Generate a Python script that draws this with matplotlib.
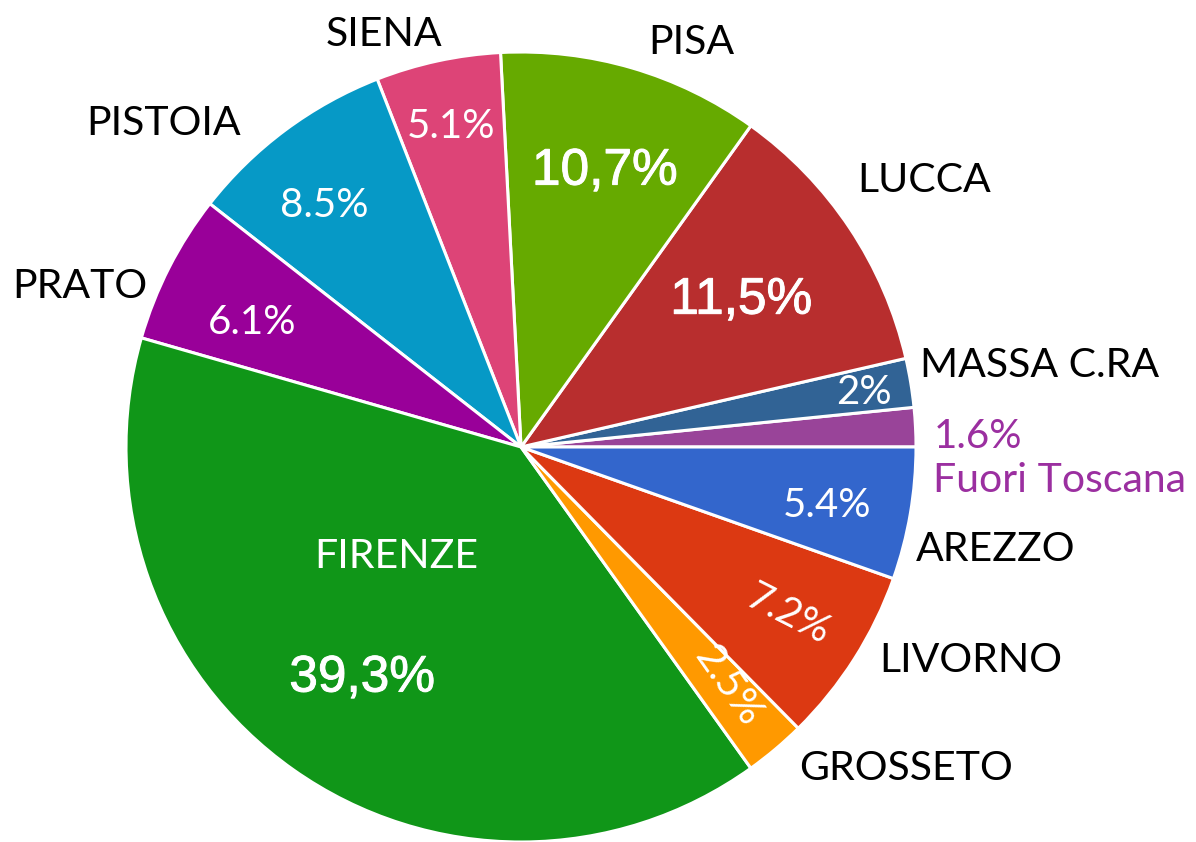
import numpy as np
import matplotlib.pyplot as plt
import matplotlib.patheffects as pe

# data, counterclockwise from 3 o'clock
names = ['Fuori Toscana', 'MASSA C.RA', 'LUCCA', 'PISA', 'SIENA', 'PISTOIA',
         'PRATO', 'FIRENZE', 'GROSSETO', 'LIVORNO', 'AREZZO']
values = [1.6, 2.0, 11.5, 10.7, 5.1, 8.5, 6.1, 39.3, 2.5, 7.2, 5.4]
pct_labels = ['1.6%', '2%', '11,5%', '10,7%', '5.1%', '8.5%', '6.1%',
              '39,3%', '2.5%', '7.2%', '5.4%']
colors = ['#994499', '#316395', '#b82e2e', '#66aa00', '#dd4477', '#0699c6',
          '#990099', '#109618', '#ff9900', '#dc3912', '#3366cc']

# label layout: radius (fraction of R) and angle offset from wedge middle
pct_r = [1.157, 0.88, 0.67, 0.73, 0.83, 0.79, 0.75, 0.71, 0.80, 0.80, 0.79]
pct_dth = [-1.6, -0.3, 0, -0.6, 0.1, 2.5, 2.2, 0.7, 0.9, 0.3, -1.1]
pct_rot = [0, 0, 0, 0, 0, 0, 0, 0, -55, -27, 0]
big = [False, False, True, True, False, False, False, True, False, False, False]
name_r = [1.367, 1.33, 1.223, 1.11, 1.10, 1.22, 1.19, 0.42, 1.27, 1.26, 1.23]
name_dth = [-6.4, -0.4, -0.2, -6.5, 6.2, 11.2, 7.0, -13.6, 10.1, 7.0, -2.4]

cx, cy, R = 521, 395, 395
font = 'Lato'

fig = plt.figure(figsize=(11.96, 8.42), dpi=100)
ax = fig.add_axes([0, 0, 1, 1])
wedges, _ = ax.pie(values, colors=colors, startangle=0, counterclock=True,
                   center=(cx, cy), radius=R,
                   wedgeprops=dict(edgecolor='white', linewidth=2.2))
ax.set_xlim(0, 1196)
ax.set_ylim(0, 842)
ax.set_aspect('equal')
ax.axis('off')

for i, w in enumerate(wedges):
    mid = (w.theta1 + w.theta2) / 2
    outside = pct_r[i] > 1
    col = '#9b2fa0' if outside else 'white'

    a = np.deg2rad(mid + pct_dth[i])
    x = cx + pct_r[i] * R * np.cos(a)
    y = cy + pct_r[i] * R * np.sin(a)
    if big[i]:
        ax.text(x, y, pct_labels[i], ha='center', va='center', color='white',
                fontsize=37, family='Liberation Sans',
                path_effects=[pe.withStroke(linewidth=0.7, foreground='white')])
    else:
        ax.text(x, y, pct_labels[i], ha='center', va='center', color=col,
                fontsize=29, family=font,
                rotation=pct_rot[i], rotation_mode='anchor')

    a = np.deg2rad(mid + name_dth[i])
    x = cx + name_r[i] * R * np.cos(a)
    y = cy + name_r[i] * R * np.sin(a)
    ncol = 'white' if name_r[i] < 1 else ('#9b2fa0' if outside else 'black')
    ax.text(x, y, names[i], ha='center', va='center', color=ncol,
            fontsize=29.5, family=font)

fig.savefig('out.png', dpi=100)
